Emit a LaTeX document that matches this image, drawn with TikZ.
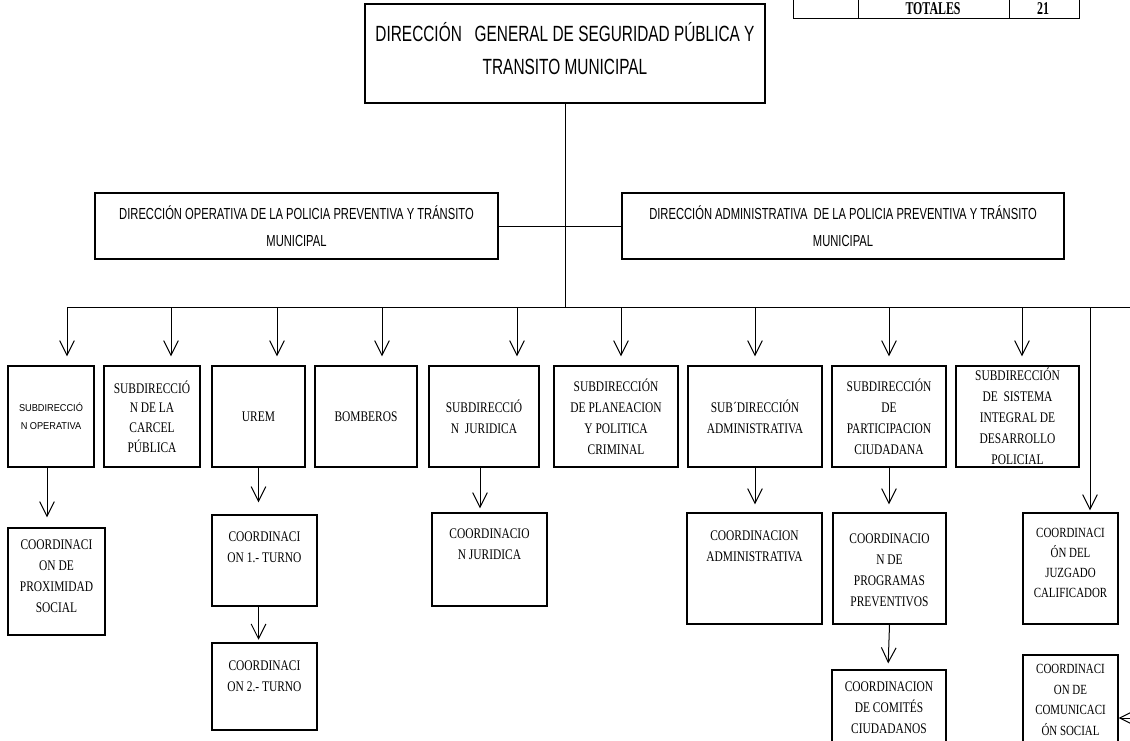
\documentclass[tikz,border=0pt]{standalone}
\usepackage{fontspec}
\setmainfont{Liberation Serif}
\newfontfamily\narrowserif[FakeStretch=0.78]{Liberation Serif}
\newfontfamily\tableserif[FakeStretch=0.66]{Liberation Serif}
\newfontfamily\narrowsans[FakeStretch=0.70]{Liberation Sans}
\newfontfamily\smallsans[FakeStretch=0.92]{Liberation Sans}
\usetikzlibrary{arrows.meta,positioning}

\tikzset{every picture/.style={line width=0.75pt}}
\tikzset{
  orgbox/.style 2 args={draw, line width=0.9pt, minimum width=#1*0.75pt, minimum height=#2*0.75pt, inner sep=0pt, align=center, font=\narrowserif\fontsize{11}{15.75}\selectfont},
  boxtext/.style={inner sep=0pt, align=center, font=\narrowserif\fontsize{11}{15.75}\selectfont},
  toptext/.style={inner sep=0pt, align=center, font=\narrowsans\fontsize{16.5}{24.75}\selectfont},
  dirfont/.style={font=\narrowsans\fontsize{12}{20.25}\selectfont},
  tabtext/.style={inner sep=0pt, font=\tableserif\bfseries\fontsize{13.5}{16}\selectfont},
  arr/.style={-{Straight Barb[length=11pt,width=11pt]}}
}

\begin{document}
\begin{tikzpicture}[x=0.75pt,y=0.75pt,yscale=-1,xscale=1]
	\useasboundingbox (0,0) rectangle (1130,740);

	%Table (cut at the top)
	\draw (793,-4) -- (793,18) -- (1079,18) -- (1079,-4) ;
	\draw (858,-4) -- (858,18) ;
	\draw (1009,-4) -- (1009,18) ;
	% Text Node
	\node[tabtext, anchor=base] (totales) at (933,14) {TOTALES};
	% Text Node
	\node[tabtext, anchor=base] (total) at (1043,14) {21};

	%Shape: Rectangle
	\node[orgbox={400}{99}] (dg) at (565,53.5) {};
	% Text Node
	\node[toptext] (dgtxt) at (565,48.5) {DIRECCIÓN~~~GENERAL DE SEGURIDAD PÚBLICA Y\\TRANSITO MUNICIPAL};

	%Shape: Rectangle
	\node[orgbox={403}{66}, dirfont] (opdir) at (296.5,226) {DIRECCIÓN OPERATIVA DE LA POLICIA PREVENTIVA Y TRÁNSITO\\MUNICIPAL};
	%Shape: Rectangle
	\node[orgbox={442}{66}, dirfont] (admdir) at (843,226) {DIRECCIÓN ADMINISTRATIVA~~DE LA POLICIA PREVENTIVA Y TRÁNSITO\\MUNICIPAL};
	\draw (opdir.east) -- (admdir.west) ;

	%Straight Lines (bus)
	\coordinate (busl) at (67,307);
	\coordinate (busr) at (1130,307);
	\draw (dg.south) -- (dg.south |- busl) ;
	\draw (busl) -- (busr) ;

	%Subdirecciones
	\node[orgbox={86}{101}, font=\smallsans\fontsize{7.5}{13.5}\selectfont] (subop) at (51,416.5) {SUBDIRECCIÓ\\N OPERATIVA};
	\node[orgbox={96}{101}, font=\narrowserif\fontsize{11}{14.8}\selectfont] (carcel) at (152,416.5) {SUBDIRECCIÓ\\N DE LA\\CARCEL\\PÚBLICA};
	\node[orgbox={93}{101}] (urem) at (258.5,416.5) {UREM};
	\node[orgbox={102}{101}] (bomb) at (366,416.5) {BOMBEROS};
	\node[orgbox={110}{101}] (subjur) at (484,416.5) {SUBDIRECCIÓ\\N~~JURIDICA};
	\node[orgbox={124}{101}] (planea) at (616,416.5) {SUBDIRECCIÓN\\DE PLANEACION\\Y POLITICA\\CRIMINAL};
	\node[orgbox={134}{101}] (subadm) at (755,416.5) {SUB´DIRECCIÓN\\ADMINISTRATIVA};
	\node[orgbox={114}{101}] (partic) at (889,416.5) {SUBDIRECCIÓN\\DE\\PARTICIPACION\\CIUDADANA};
	\node[orgbox={123}{101}] (sistema) at (1017.5,416.5) {SUBDIRECCIÓN\\DE~~SISTEMA\\INTEGRAL DE\\DESARROLLO\\POLICIAL};

	%Arrows from the bus
	\coordinate (b1) at (67,307);
	\coordinate (b2) at (171,307);
	\coordinate (b3) at (277,307);
	\coordinate (b4) at (382,307);
	\coordinate (b5) at (517,307);
	\coordinate (b6) at (621,307);
	\coordinate (b7) at (755,307);
	\coordinate (b8) at (889,307);
	\coordinate (b9) at (1022,307);
	\coordinate (b10) at (1090,307);
	\draw[arr, shorten >=6.75pt] (b1) -- (b1 |- subop.north) ;
	\draw[arr, shorten >=6.75pt] (b2) -- (b2 |- carcel.north) ;
	\draw[arr, shorten >=6.75pt] (b3) -- (b3 |- urem.north) ;
	\draw[arr, shorten >=6.75pt] (b4) -- (b4 |- bomb.north) ;
	\draw[arr, shorten >=6.75pt] (b5) -- (b5 |- subjur.north) ;
	\draw[arr, shorten >=6.75pt] (b6) -- (b6 |- planea.north) ;
	\draw[arr, shorten >=6.75pt] (b7) -- (b7 |- subadm.north) ;
	\draw[arr, shorten >=6.75pt] (b8) -- (b8 |- partic.north) ;
	\draw[arr, shorten >=6.75pt] (b9) -- (b9 |- sistema.north) ;

	%Coordinaciones
	\node[orgbox={97}{107}] (prox) at (56.5,581.5) {};
	\node[boxtext] (proxtxt) at (56.5,576) {COORDINACI\\ON DE\\PROXIMIDAD\\SOCIAL};
	\node[orgbox={105}{91}] (turnoa) at (264.5,560.5) {};
	\node[boxtext] (turnoatxt) at (264.5,547) {COORDINACI\\ON 1.- TURNO};
	\node[orgbox={105}{87}] (turnob) at (264.5,686.5) {};
	\node[boxtext] (turnobtxt) at (264.5,676.5) {COORDINACI\\ON 2.- TURNO};
	\node[orgbox={115}{93}] (coordjur) at (489.5,559.5) {};
	\node[boxtext] (coordjurtxt) at (489.5,544.5) {COORDINACIO\\N JURIDICA};
	\node[orgbox={135}{111}] (coordadm) at (754.5,568.5) {};
	\node[boxtext] (coordadmtxt) at (754.5,546) {COORDINACION\\ADMINISTRATIVA};
	\node[orgbox={113}{111}] (coordprog) at (889.5,568.5) {};
	\node[boxtext] (coordprogtxt) at (889.5,570) {COORDINACIO\\N DE\\PROGRAMAS\\PREVENTIVOS};
	\node[orgbox={114}{80}] (coordcom) at (889,710) {};
	\node[boxtext] (coordcomtxt) at (889,708) {COORDINACION\\DE COMITÉS\\CIUDADANOS};
	\node[orgbox={95}{111}] (juzgado) at (1070.5,568.5) {};
	\node[boxtext, font=\narrowserif\fontsize{10.5}{15}\selectfont] (juzgadotxt) at (1070.5,563) {COORDINACI\\ÓN DEL\\JUZGADO\\CALIFICADOR};
	\node[orgbox={95}{95}] (comunic) at (1070.5,702.5) {};
	\node[boxtext, font=\narrowserif\fontsize{10.5}{15.3}\selectfont] (comunictxt) at (1070.5,700) {COORDINACI\\ON DE\\COMUNICACI\\ÓN SOCIAL};

	%Arrows to the coordinaciones
	\draw[arr, shorten >=7.5pt] ([xshift=-3pt]subop.south) -- ([xshift=-3pt]subop.south |- prox.north) ;
	\draw[arr, shorten >=9pt] (urem.south) -- (urem.south |- turnoa.north) ;
	\draw[arr, shorten >=2pt] (urem.south |- turnoa.south) -- (urem.south |- turnob.north) ;
	\draw[arr, shorten >=3pt] ([xshift=-3pt]subjur.south) -- ([xshift=-3pt]subjur.south |- coordjur.north) ;
	\draw[arr, shorten >=6pt] (subadm.south) -- (subadm.south |- coordadm.north) ;
	\draw[arr, shorten >=6pt] (partic.south) -- (partic.south |- coordprog.north) ;
	\draw[arr, shorten >=4.5pt] (coordprog.south) -- ([xshift=-0.75pt]coordcom.north) ;
	\draw[arr, shorten >=1.5pt] (b10) -- (b10 |- juzgado.north) ;
	\coordinate (rin) at (1130,718);
	\draw[arr] (rin) -- (rin -| comunic.east) ;

\end{tikzpicture}
\end{document}
